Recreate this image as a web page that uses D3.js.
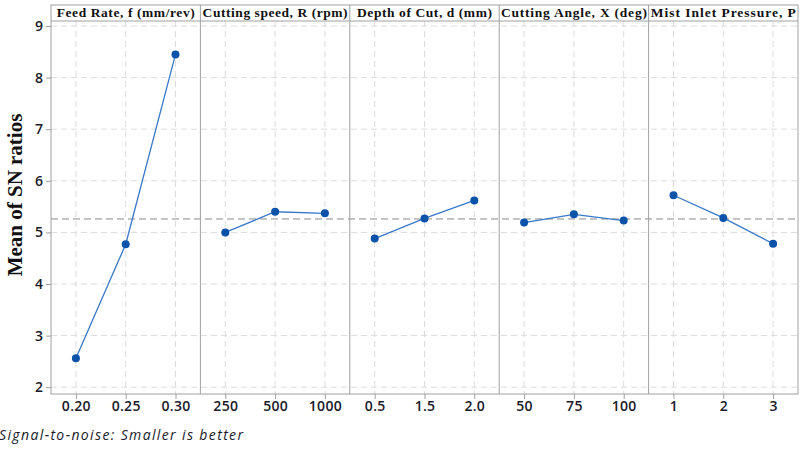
<!DOCTYPE html>
<html><head><meta charset="utf-8">
<script src="https://cdn.jsdelivr.net/npm/d3@7"></script>
<style>body{margin:0;background:#fff}</style>
</head><body><div id="c"></div>
<script>
const panels = ["Feed Rate, f (mm/rev)", "Cutting speed, R (rpm)", "Depth of Cut, d (mm)", "Cutting Angle, X (deg)", "Mist Inlet Pressure, P"];
const levels = [["0.20","0.25","0.30"],["250","500","1000"],["0.5","1.5","2.0"],["50","75","100"],["1","2","3"]];
const values = [[2.56,4.77,8.45],[5.00,5.40,5.37],[4.88,5.27,5.62],[5.19,5.35,5.23],[5.72,5.28,4.78]];
const yTicks = [2,3,4,5,6,7,8,9];
const grandMean = 5.26;
const footnote = "Signal-to-noise: Smaller is better";
const yTitle = "Mean of SN ratios";

const W=800,H=449;
const L=51,R=798,T=5,HB=21,B=394;
const svg=d3.select("#c").append("svg").attr("width",W).attr("height",H);
const y=d3.scaleLinear().domain([9+(26-HB)/51.6, 9-(B-26)/51.6]).range([HB,B]);
const panelX=d3.scaleBand().domain(d3.range(panels.length)).range([L,R]).padding(0);
const gridC="#dcdcdc", frameC="#a0a0a0";
const headerFill=[138,145,135,146,145];

svg.append("g").selectAll("line").data(yTicks).join("line")
 .attr("x1",L).attr("x2",R).attr("y1",d=>y(d)).attr("y2",d=>y(d))
 .attr("stroke",gridC).attr("stroke-dasharray","6,4");

const xScales=[];
panels.forEach((p,i)=>{
  const x0=panelX(i), x1=x0+panelX.bandwidth();
  const xs=d3.scalePoint().domain(levels[i]).range([x0,x1]).padding(0.5);
  xScales[i]=xs;
  svg.append("g").selectAll("line").data(levels[i]).join("line")
   .attr("x1",d=>xs(d)).attr("x2",d=>xs(d)).attr("y1",HB).attr("y2",B)
   .attr("stroke",gridC).attr("stroke-dasharray","6,4");
  const ax=svg.append("g").attr("transform",`translate(0,${B})`)
   .call(d3.axisBottom(xs).tickSize(5).tickPadding(2));
  ax.select(".domain").remove();
  ax.selectAll("line").attr("stroke",frameC);
  ax.selectAll("text").attr("font-family","'Open Sans'").attr("font-size",14).attr("font-weight",600)
   .attr("letter-spacing",0.3).attr("fill","#1a1a2a");
  svg.append("text").attr("x",(x0+x1)/2).attr("y",HB-4).attr("text-anchor","middle")
   .attr("font-family","'Liberation Serif'").attr("font-weight","bold").attr("font-size",13.5)
   .attr("textLength",headerFill[i]).attr("lengthAdjust","spacing")
   .attr("fill","#111").text(p);
});

svg.append("line").attr("x1",L).attr("x2",R).attr("y1",y(grandMean)).attr("y2",y(grandMean))
 .attr("stroke","#8a8a8a").attr("stroke-dasharray","7,4");

panels.forEach((p,i)=>{
  const xs=xScales[i];
  const pts=levels[i].map((l,j)=>[xs(l),y(values[i][j])]);
  svg.append("path").attr("d",d3.line()(pts)).attr("fill","none").attr("stroke","#3a78c8").attr("stroke-width",1.3);
  svg.append("g").selectAll("circle").data(pts).join("circle")
   .attr("cx",d=>d[0]).attr("cy",d=>d[1]).attr("r",4).attr("fill","#0b53a8");
});

svg.append("rect").attr("x",L).attr("y",T).attr("width",R-L).attr("height",B-T).attr("fill","none").attr("stroke",frameC);
svg.append("line").attr("x1",L).attr("x2",R).attr("y1",HB).attr("y2",HB).attr("stroke",frameC);
for(let i=1;i<panels.length;i++){
  svg.append("line").attr("x1",panelX(i)).attr("x2",panelX(i)).attr("y1",T).attr("y2",B).attr("stroke",frameC);
}
const ay=svg.append("g").attr("transform",`translate(${L},0)`).call(d3.axisLeft(y).tickValues(yTicks).tickSize(5).tickPadding(3));
ay.select(".domain").remove();
ay.selectAll("line").attr("stroke",frameC);
ay.selectAll("text").attr("font-family","'Open Sans'").attr("font-size",14).attr("font-weight",600).attr("fill","#1a1a2a");

svg.append("text").attr("transform",`translate(22,195) rotate(-90)`).attr("text-anchor","middle")
 .attr("font-family","'Liberation Serif'").attr("font-weight","bold").attr("font-size",21).attr("fill","#111").text(yTitle);
svg.append("text").attr("x",-1).attr("y",440).attr("font-family","'Open Sans'").attr("font-style","italic")
 .attr("font-size",14).attr("textLength",244).attr("lengthAdjust","spacing").attr("fill","#1a1a2a").text(footnote);
</script></body></html>
